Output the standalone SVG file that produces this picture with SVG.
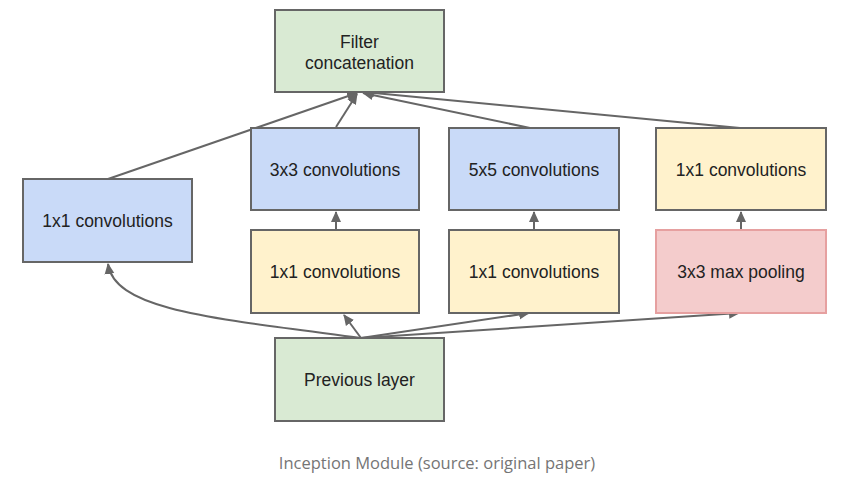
<svg xmlns="http://www.w3.org/2000/svg" width="867" height="487" viewBox="0 0 867 487">
<defs>
<marker id="ah" markerWidth="12" markerHeight="12" refX="10" refY="6" orient="auto" markerUnits="userSpaceOnUse">
<path d="M0,1 L11,6 L0,11 Z" fill="#666"/>
</marker>
<style>
.box{stroke:#666;stroke-width:2}
.blue{fill:#c9daf8}.yellow{fill:#fff2cc}.green{fill:#d9ead3}.pink{fill:#f4cccc;stroke:#e6a0a0}
.t{font-family:"Liberation Sans",Arial,sans-serif;font-size:17.5px;fill:#222;text-anchor:middle;dominant-baseline:central}
.c{stroke:#666;stroke-width:2;fill:none;marker-end:url(#ah)}
.cap{font-family:"Open Sans","Noto Sans",sans-serif;font-size:16.5px;fill:#757575;text-anchor:middle}
</style>
</defs>
<rect width="867" height="487" fill="#fff"/>
<g id="connectors">
<path class="c" d="M108,179 L357,93"/>
<path class="c" d="M336,127 L357,94"/>
<path class="c" d="M530,128 L363,93"/>
<path class="c" d="M740,128 L364,92"/>
<path class="c" d="M336,230 L336,212"/>
<path class="c" d="M534,230 L534,212"/>
<path class="c" d="M741,230 L741,212"/>
<path class="c" d="M361,338 C210,318 115,310 108,264"/>
<path class="c" d="M361,338 L344,315"/>
<path class="c" d="M361,338 L529,313"/>
<path class="c" d="M361,338 L739,313"/>
</g>
<g id="filter"><rect class="box green" x="275" y="10" width="169" height="82"/><text class="t" x="359.5" y="42">Filter</text><text class="t" x="359.5" y="63">concatenation</text></g>
<g id="conv1x1_left"><rect class="box blue" x="23" y="179" width="169" height="83"/><text class="t" x="107.5" y="220.5">1x1 convolutions</text></g>
<g id="conv3x3"><rect class="box blue" x="251" y="128" width="168" height="82"/><text class="t" x="335" y="170">3x3 convolutions</text></g>
<g id="conv5x5"><rect class="box blue" x="449" y="128" width="170" height="82"/><text class="t" x="534" y="170">5x5 convolutions</text></g>
<g id="conv1x1_pool"><rect class="box yellow" x="656" y="128" width="170" height="82"/><text class="t" x="741" y="170">1x1 convolutions</text></g>
<g id="reduce3x3"><rect class="box yellow" x="251" y="230" width="168" height="83"/><text class="t" x="335" y="272">1x1 convolutions</text></g>
<g id="reduce5x5"><rect class="box yellow" x="449" y="230" width="170" height="83"/><text class="t" x="534" y="272">1x1 convolutions</text></g>
<g id="maxpool"><rect class="box pink" x="656" y="230" width="170" height="83"/><text class="t" x="741" y="272">3x3 max pooling</text></g>
<g id="previous"><rect class="box green" x="275" y="338" width="169" height="83"/><text class="t" x="359.5" y="380">Previous layer</text></g>
<text class="cap" x="437" y="469">Inception Module (source: original paper)</text>
</svg>
